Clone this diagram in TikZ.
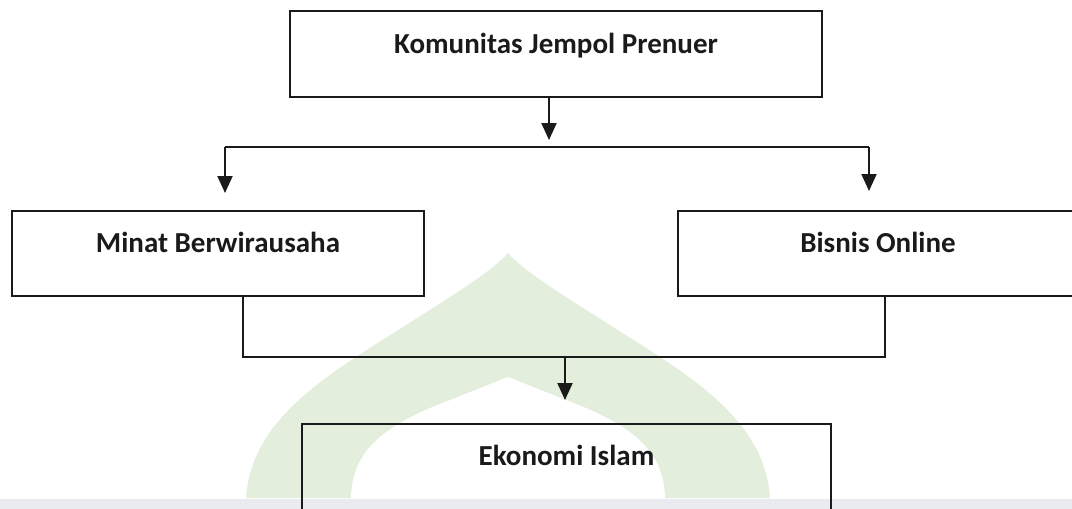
\documentclass[tikz,border=0pt]{standalone}
\usepackage{fontspec}
\setmainfont{Carlito}
\usetikzlibrary{arrows.meta}
\definecolor{wm}{RGB}{227,239,220}
\definecolor{band}{RGB}{234,234,241}
\definecolor{ink}{RGB}{26,26,26}
\tikzset{
  box/.style={draw=ink, line width=2pt, inner sep=0pt, anchor=base,
    font=\fontsize{29}{35}\selectfont\bfseries, text=ink},
  conn/.style={draw=ink, line width=2pt},
  arr/.style={conn, -{Triangle[width=15pt,length=17pt]}},
}
\begin{document}
\begin{tikzpicture}[x=1pt,y=-1pt]
\useasboundingbox (0,0) rectangle (1072,509);
\clip (0,0) rectangle (1072,509);
% watermark
\fill[wm] (246,498) .. controls (250,440) and (290,400) .. (356,357)
  .. controls (420,315) and (490,275) .. (508,253)
  .. controls (526,275) and (596,315) .. (660,357)
  .. controls (726,400) and (766,440) .. (770,498) -- cycle;
\fill[white] (351,498) .. controls (352,450) and (385,428) .. (430,408) -- (508,377)
  -- (586,408) .. controls (631,428) and (664,450) .. (665,498) -- cycle;
\fill[band] (0,499) rectangle (1072,509);
% boxes
\node[box, minimum width=532pt, text height=42pt, text depth=44pt] (top) at (556,53) {Komunitas Jempol Prenuer};
\node[box, minimum width=412pt, text height=41pt, text depth=44pt] (left) at (218,252) {Minat Berwirausaha};
\node[box, minimum width=400pt, text height=41pt, text depth=44pt] (right) at (878,252) {Bisnis Online};
\node[box, minimum width=529pt, text height=41pt, text depth=65pt] (bottom) at (566.5,465) {Ekonomi Islam};
% connectors
\coordinate (j) at (549,140);
\coordinate (hl) at (225,147);
\coordinate (hr) at (869,147);
\coordinate (lt) at (225,193);
\coordinate (rt) at (869,191);
\coordinate (bl) at (243,357);
\coordinate (br) at (885,357);
\coordinate (bt) at (565,400);
\draw[arr] (top.south -| j) -- (j);
\draw[conn] (hl) -- (hr);
\draw[arr] (hl) -- (lt);
\draw[arr] (hr) -- (rt);
\draw[conn] (left.south -| bl) -- (bl) -- (br) -- (right.south -| br);
\draw[arr] (bl -| bt) -- (bt);
\end{tikzpicture}
\end{document}
